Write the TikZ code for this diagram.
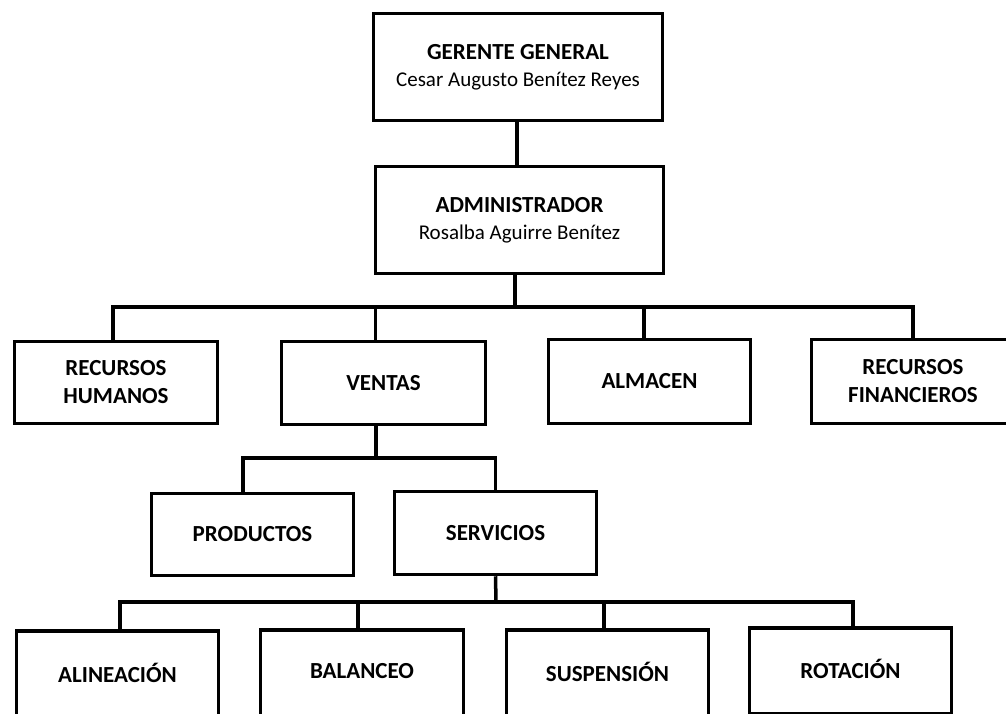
\documentclass[tikz,border=0pt]{standalone}
\usepackage{fontspec}
\setmainfont{Carlito}
\begin{document}
\begin{tikzpicture}[x=1pt,y=-1pt,
  box/.style={draw=black,line width=3.5pt,fill=white,rectangle,inner sep=0pt,align=center,
    font=\fontsize{23}{28}\selectfont\bfseries,text=black},
  link/.style={draw=black,line width=3.5pt}]
\useasboundingbox (0,0) rectangle (1006,713);
\clip (0,0) rectangle (1006,713);
\newcommand{\regtxt}[1]{{\fontsize{21}{27}\selectfont\mdseries #1}}
% top
\node[box,minimum width=289,minimum height=107] (g) at (518,67) {GERENTE GENERAL\\[-1pt]\regtxt{Cesar Augusto Benítez Reyes}};
\node[box,minimum width=288,minimum height=107] (a) at (519.5,220) {ADMINISTRADOR\\[-1pt]\regtxt{Rosalba Aguirre Benítez}};
% second level
\node[box,minimum width=203,minimum height=82] (rh) at (116,382.5) {RECURSOS\\HUMANOS};
\node[box,minimum width=204,minimum height=83] (v) at (383.5,383) {VENTAS};
\node[box,minimum width=202,minimum height=84] (al) at (649.5,381.5) {ALMACEN};
\node[box,minimum width=203,minimum height=84] (rf) at (913,381.5) {RECURSOS\\FINANCIEROS};
% third level
\node[box,minimum width=202,minimum height=82] (p) at (252.5,534.5) {PRODUCTOS};
\node[box,minimum width=202,minimum height=83] (s) at (495.5,533) {SERVICIOS};
% fourth level (cut by the bottom edge)
\node[box,minimum width=202,minimum height=86] (an) at (117.5,674) {};
\node[box,minimum width=203,minimum height=86] (ba) at (362,673) {};
\node[box,minimum width=202,minimum height=86] (su) at (607.5,673) {};
\node[box,minimum width=202,minimum height=86] (ro) at (850.5,671) {};
\node[font=\fontsize{23}{28}\selectfont\bfseries] (tan) at (117.5,673) {ALINEACIÓN};
\node[font=\fontsize{23}{28}\selectfont\bfseries] (tba) at (362,671) {BALANCEO};
\node[font=\fontsize{23}{28}\selectfont\bfseries] (tsu) at (607.5,672) {SUSPENSIÓN};
\node[font=\fontsize{23}{28}\selectfont\bfseries] (tro) at (850.5,669) {ROTACIÓN};
% buses
\coordinate (b1) at (515,307);
\coordinate (b2) at (376,458);
\coordinate (b3) at (496,602);
% connectors
\draw[link] ([xshift=-1pt]g.south) -- ([xshift=-2.5pt]a.north);
\draw[link] ([xshift=-4.5pt]a.south) -- (b1);
\draw[link] ([xshift=-3pt]rh.north) |- (b1) -| (rf.north);
\draw[link] ([xshift=-8pt]v.north) -- ++(0,-33);
\draw[link] ([xshift=-5.5pt]al.north) -- ++(0,-31);
\draw[link] ([xshift=-7.5pt]v.south) -- (b2);
\draw[link] ([xshift=-9.5pt]p.north) |- (b2) -| (s.north);
\draw[link] (s.south) -- (b3);
\draw[link] ([xshift=2.5pt]an.north) |- (b3) -| ([xshift=2.5pt]ro.north);
\draw[link] ([xshift=-4pt]ba.north) -- ++(0,-27);
\draw[link] ([xshift=-3.5pt]su.north) -- ++(0,-27);
\end{tikzpicture}
\end{document}
